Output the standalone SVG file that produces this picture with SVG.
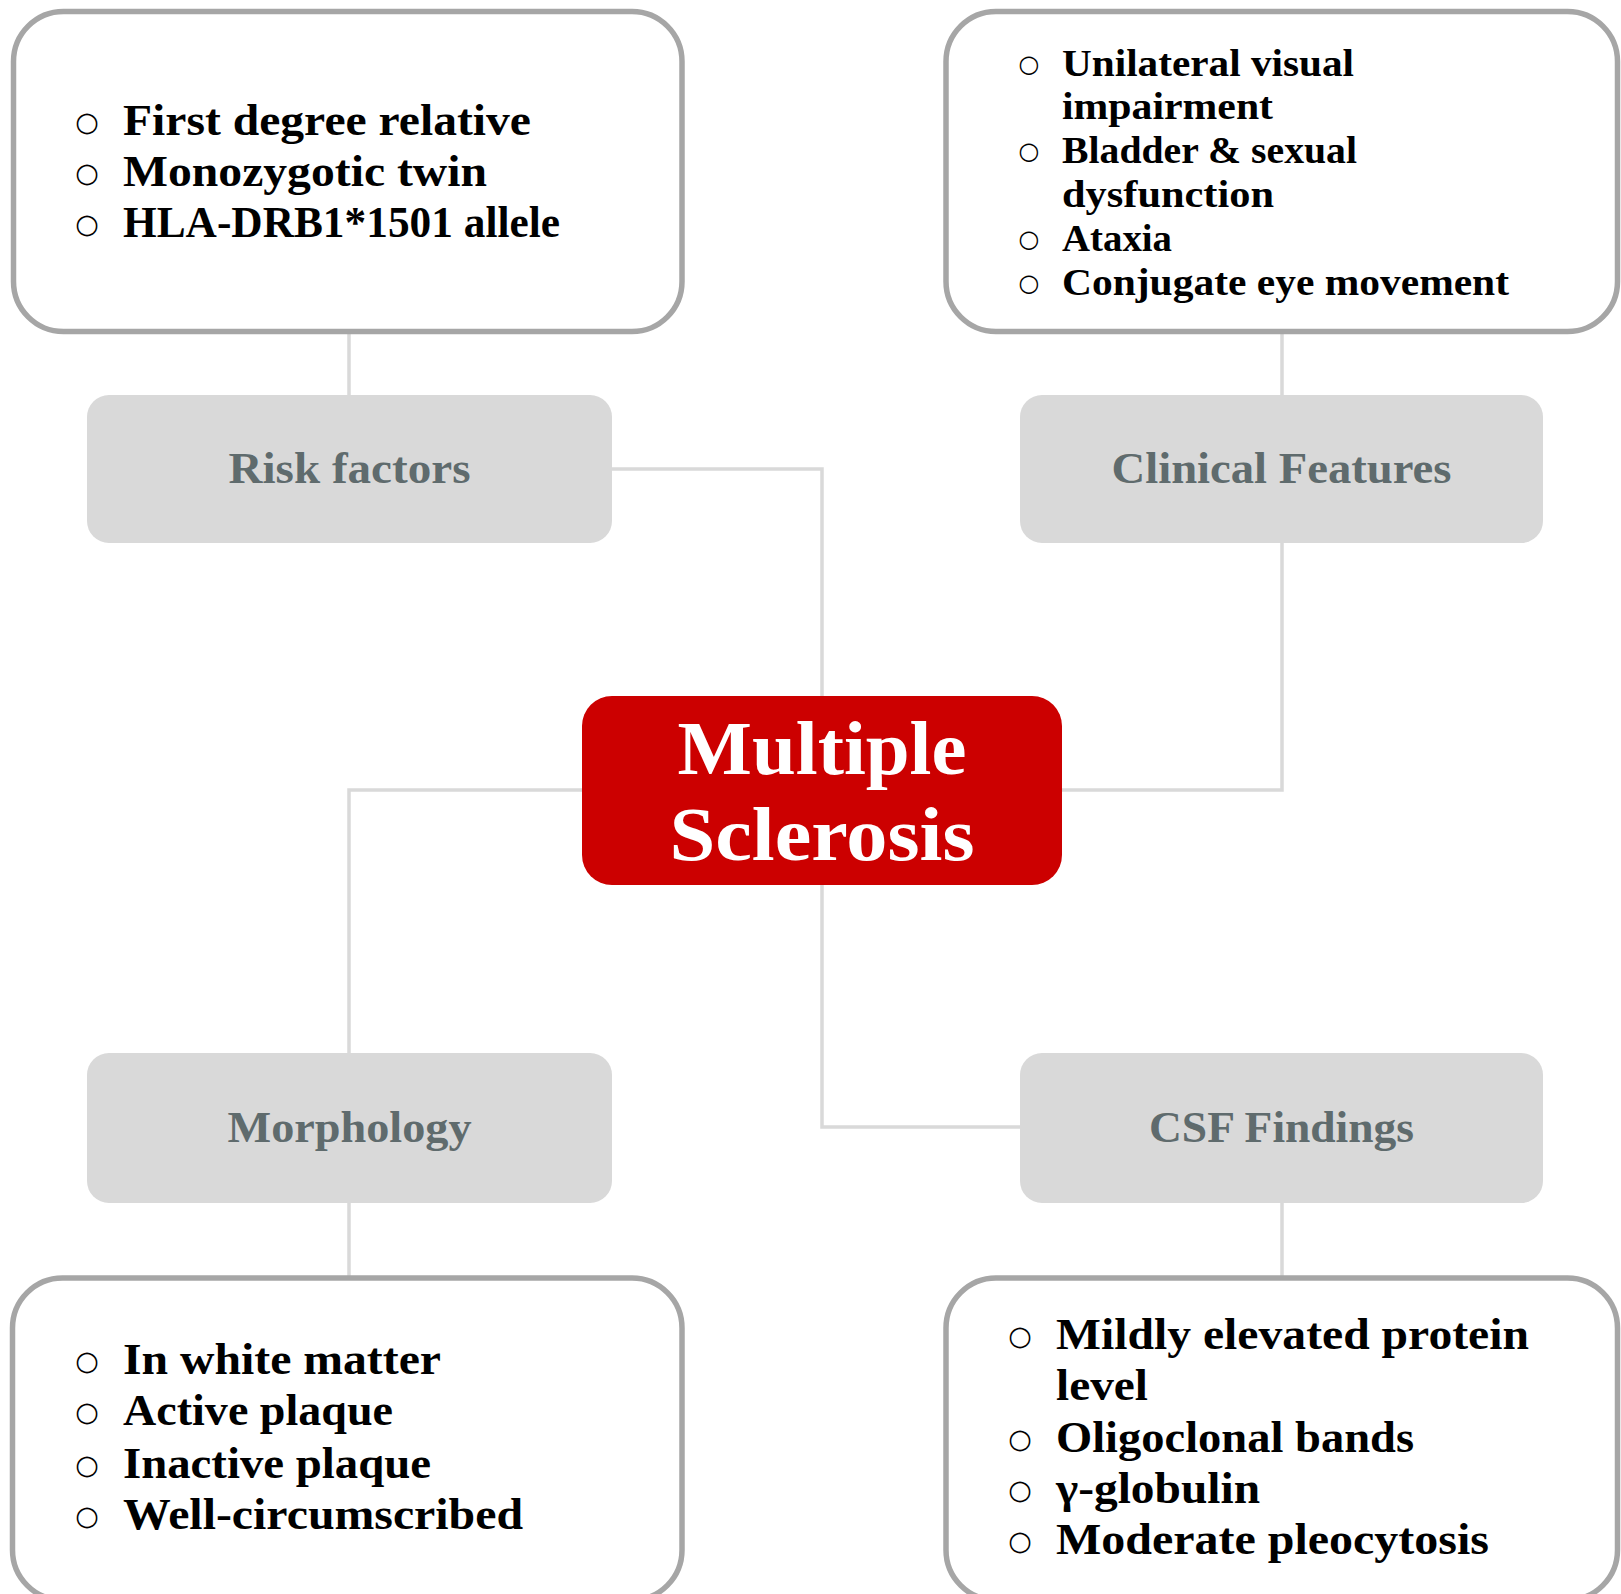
<svg xmlns="http://www.w3.org/2000/svg" width="1621" height="1594" viewBox="0 0 1621 1594">
<style>
.outer{fill:#ffffff;stroke:#a6a6a6;stroke-width:5.5}
.head{fill:#d9d9d9}
.conn{fill:none;stroke:#d9d9d9;stroke-width:3.5}
.item{font-family:"Liberation Serif",serif;font-weight:bold;fill:#000000}
.big{font-size:45px}
.small{font-size:38px}
.bul{font-family:"DejaVu Sans",sans-serif;fill:#000000;text-anchor:middle}
.bulbig{font-size:27px}
.bulsmall{font-size:24px}
.htext{font-family:"Liberation Serif",serif;font-weight:bold;font-size:44px;fill:#5f6b6d;text-anchor:middle}
.mstext{font-family:"Liberation Serif",serif;font-weight:bold;font-size:76px;fill:#ffffff;text-anchor:middle}
</style>
<rect width="1621" height="1594" fill="#ffffff"/>
<g id="connectors">
<path class="conn" d="M349,331 V395"/>
<path class="conn" d="M1282,331 V395"/>
<path class="conn" d="M612,469 H822 V696"/>
<path class="conn" d="M582,790 H349 V1053"/>
<path class="conn" d="M1062,790 H1282 V543"/>
<path class="conn" d="M822,885 V1127 H1020"/>
<path class="conn" d="M349,1203 V1278"/>
<path class="conn" d="M1282,1203 V1278"/>
</g>
<g id="risk-list">
<rect class="outer" x="13.5" y="11.5" width="668.5" height="320" rx="50"/>
<text class="bul bulbig" x="87" y="131">○</text>
<text class="bul bulbig" x="87" y="182">○</text>
<text class="bul bulbig" x="87" y="233">○</text>
<text class="item big" x="123" y="135" textLength="408" lengthAdjust="spacingAndGlyphs">First degree relative</text>
<text class="item big" x="123" y="186" textLength="364" lengthAdjust="spacingAndGlyphs">Monozygotic twin</text>
<text class="item big" x="123" y="237" textLength="437" lengthAdjust="spacingAndGlyphs">HLA-DRB1*1501 allele</text>
</g>
<g id="clinical-list">
<rect class="outer" x="946" y="11.5" width="671.5" height="320" rx="50"/>
<text class="bul bulsmall" x="1029" y="72">○</text>
<text class="bul bulsmall" x="1029" y="159">○</text>
<text class="bul bulsmall" x="1029" y="247">○</text>
<text class="bul bulsmall" x="1029" y="291">○</text>
<text class="item small" x="1062" y="76" textLength="292" lengthAdjust="spacingAndGlyphs">Unilateral visual</text>
<text class="item small" x="1062" y="119" textLength="211" lengthAdjust="spacingAndGlyphs">impairment</text>
<text class="item small" x="1062" y="163" textLength="295" lengthAdjust="spacingAndGlyphs">Bladder &amp; sexual</text>
<text class="item small" x="1062" y="207" textLength="212" lengthAdjust="spacingAndGlyphs">dysfunction</text>
<text class="item small" x="1062" y="251" textLength="110" lengthAdjust="spacingAndGlyphs">Ataxia</text>
<text class="item small" x="1062" y="295" textLength="447" lengthAdjust="spacingAndGlyphs">Conjugate eye movement</text>
</g>
<g id="risk-factors">
<rect class="head" x="87" y="395" width="525" height="148" rx="22"/>
<text class="htext" x="349.5" y="483" textLength="242" lengthAdjust="spacingAndGlyphs">Risk factors</text>
</g>
<g id="clinical-features">
<rect class="head" x="1020" y="395" width="523" height="148" rx="22"/>
<text class="htext" x="1281.5" y="483" textLength="340" lengthAdjust="spacingAndGlyphs">Clinical Features</text>
</g>
<g id="multiple-sclerosis">
<rect x="582" y="696" width="480" height="189" rx="30" fill="#cc0000"/>
<text class="mstext" x="822" y="774" textLength="289" lengthAdjust="spacingAndGlyphs">Multiple</text>
<text class="mstext" x="822" y="860" textLength="305" lengthAdjust="spacingAndGlyphs">Sclerosis</text>
</g>
<g id="morphology">
<rect class="head" x="87" y="1053" width="525" height="150" rx="22"/>
<text class="htext" x="349.5" y="1142" textLength="244" lengthAdjust="spacingAndGlyphs">Morphology</text>
</g>
<g id="csf-findings">
<rect class="head" x="1020" y="1053" width="523" height="150" rx="22"/>
<text class="htext" x="1281.5" y="1142" textLength="265" lengthAdjust="spacingAndGlyphs">CSF Findings</text>
</g>
<g id="morphology-list">
<rect class="outer" x="12.5" y="1278" width="669.5" height="322" rx="50"/>
<text class="bul bulbig" x="87" y="1370">○</text>
<text class="bul bulbig" x="87" y="1421">○</text>
<text class="bul bulbig" x="87" y="1474">○</text>
<text class="bul bulbig" x="87" y="1525">○</text>
<text class="item big" x="123" y="1374" textLength="318" lengthAdjust="spacingAndGlyphs">In white matter</text>
<text class="item big" x="123" y="1425" textLength="270" lengthAdjust="spacingAndGlyphs">Active plaque</text>
<text class="item big" x="123" y="1478" textLength="308" lengthAdjust="spacingAndGlyphs">Inactive plaque</text>
<text class="item big" x="123" y="1529" textLength="400" lengthAdjust="spacingAndGlyphs">Well-circumscribed</text>
</g>
<g id="csf-list">
<rect class="outer" x="946" y="1278" width="671.5" height="322" rx="50"/>
<text class="bul bulbig" x="1020" y="1345">○</text>
<text class="bul bulbig" x="1020" y="1448">○</text>
<text class="bul bulbig" x="1020" y="1499">○</text>
<text class="bul bulbig" x="1020" y="1550">○</text>
<text class="item big" x="1056" y="1349" textLength="473" lengthAdjust="spacingAndGlyphs">Mildly elevated protein</text>
<text class="item big" x="1056" y="1400" textLength="92" lengthAdjust="spacingAndGlyphs">level</text>
<text class="item big" x="1056" y="1452" textLength="358" lengthAdjust="spacingAndGlyphs">Oligoclonal bands</text>
<text class="item big" x="1056" y="1503" textLength="204" lengthAdjust="spacingAndGlyphs">γ-globulin</text>
<text class="item big" x="1056" y="1554" textLength="433" lengthAdjust="spacingAndGlyphs">Moderate pleocytosis</text>
</g>
</svg>
